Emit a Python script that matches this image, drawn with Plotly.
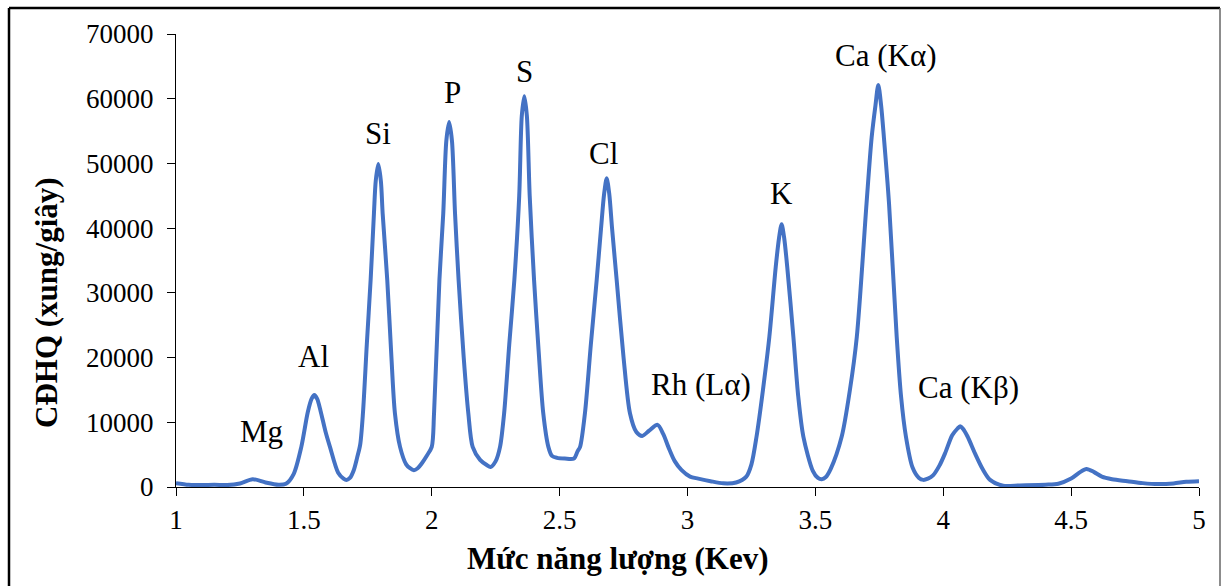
import plotly.graph_objects as go

# Spectrum
energy = [1.00, 1.05, 1.10, 1.15, 1.20, 1.25, 1.30, 1.35, 1.40, 1.43, 1.46, 1.49, 1.515, 1.530,
          1.541, 1.552, 1.565, 1.585, 1.602, 1.634, 1.655, 1.667, 1.68, 1.695, 1.708, 1.72, 1.731,
          1.746, 1.761, 1.774, 1.781, 1.791, 1.801, 1.808, 1.826, 1.841, 1.856, 1.876, 1.90, 1.915,
          1.93, 1.945, 1.96, 1.98, 2.00, 2.009, 2.03, 2.045, 2.057, 2.068, 2.079, 2.091, 2.105,
          2.125, 2.143, 2.16, 2.189, 2.215, 2.23, 2.25, 2.267, 2.283, 2.303, 2.323, 2.342, 2.352,
          2.362, 2.372, 2.383, 2.40, 2.418, 2.436, 2.456, 2.47, 2.49, 2.52, 2.556, 2.57, 2.58,
          2.599, 2.622, 2.645, 2.662, 2.674, 2.684, 2.694, 2.705, 2.723, 2.75, 2.775, 2.80, 2.823,
          2.85, 2.883, 2.905, 2.925, 2.95, 2.977, 3.01, 3.042, 3.09, 3.14, 3.19, 3.23, 3.25, 3.27,
          3.295, 3.32, 3.345, 3.358, 3.368, 3.378, 3.39, 3.414, 3.433, 3.453, 3.49, 3.51, 3.525,
          3.54, 3.56, 3.603, 3.635, 3.662, 3.70, 3.72, 3.735, 3.746, 3.757, 3.768, 3.788, 3.818,
          3.835, 3.854, 3.88, 3.905, 3.922, 3.94, 3.96, 3.985, 4.007, 4.035, 4.055, 4.066, 4.077,
          4.095, 4.124, 4.155, 4.183, 4.234, 4.30, 4.40, 4.45, 4.50, 4.535, 4.56, 4.59, 4.62,
          4.66, 4.72, 4.78, 4.84, 4.90, 4.95, 5.00]
counts = [600, 350, 300, 350, 300, 550, 1200, 700, 350, 500, 2000, 6200, 11500, 13600,
          14200, 13600, 11800, 8500, 6200, 2200, 1300, 1100, 1400, 2600, 4500, 6500, 11400,
          22000, 32000, 42300, 47300, 49900, 47300, 42300, 32000, 21000, 11400, 6200, 3500, 2900,
          2600, 2900, 3600, 4800, 6200, 11400, 32000, 42300, 53500, 56400, 53500, 42300, 32000,
          20000, 11400, 6200, 4200, 3400, 3100, 4000, 6200, 11400, 22000, 32000, 45000, 57300,
          60400, 57300, 45000, 32000, 21000, 11400, 6200, 4800, 4500, 4400, 4400, 5500, 6200,
          11400, 22000, 32000, 40000, 45300, 47700, 45300, 40000, 32000, 20000, 11400, 8500, 7900,
          8700, 9600, 8200, 6200, 4000, 2600, 1600, 1300, 900, 570, 700, 1600, 3500, 7800,
          15000, 23200, 34000, 38500, 40600, 38500, 34000, 23200, 14000, 7800, 2500, 1400, 1200,
          1500, 2800, 7800, 15000, 23200, 43800, 54000, 59000, 62100, 59000, 54000, 43800, 23200,
          14000, 7800, 3000, 1400, 1100, 1300, 1800, 3300, 5200, 8000, 9000, 9400, 9000,
          7800, 5200, 2700, 1100, 200, 250, 350, 500, 1300, 2300, 2800, 2300, 1600,
          1200, 900, 600, 450, 550, 800, 900]

peak_labels = ["Mg", "Al", "Si", "P", "S", "Cl", "Rh (Lα)", "K", "Ca (Kα)", "Ca (Kβ)"]
label_x = [1.336, 1.536, 1.79, 2.08, 2.361, 2.67, 3.053, 3.366, 3.776, 4.097]
label_y = [8500, 20100, 54700, 60900, 64200, 51600, 15900, 45400, 66700, 15300]

x_ticks = [1, 1.5, 2, 2.5, 3, 3.5, 4, 4.5, 5]
x_tick_text = ["1", "1.5", "2", "2.5", "3", "3.5", "4", "4.5", "5"]
y_ticks = [0, 10000, 20000, 30000, 40000, 50000, 60000, 70000]

x_title = "Mức năng lượng (Kev)"
y_title = "CĐHQ (xung/giây)"

FONT = "Liberation Serif"

fig = go.Figure()
fig.add_trace(go.Scatter(
    x=energy, y=counts, mode="lines",
    line=dict(color="#4472C4", width=4, shape="spline", smoothing=0.8),
    hoverinfo="x+y", showlegend=False,
))

for t, lx, ly in zip(peak_labels, label_x, label_y):
    fig.add_annotation(x=lx, y=ly, text=t, showarrow=False, xref="x", yref="y",
                       xanchor="center", yanchor="middle",
                       font=dict(family=FONT, size=31, color="black"))

# axis titles
fig.add_annotation(x=(618 - 176) / 1023, y=(487 - 558) / 453, xref="paper", yref="paper",
                   text="<b>" + x_title + "</b>", showarrow=False,
                   xanchor="center", yanchor="middle",
                   font=dict(family=FONT, size=31, color="black"))
fig.add_annotation(x=(47 - 176) / 1023, y=(487 - 303) / 453, xref="paper", yref="paper",
                   text="<b>" + y_title + "</b>", showarrow=False, textangle=-90,
                   xanchor="center", yanchor="middle",
                   font=dict(family=FONT, size=31, color="black"))

# outer frame of the chart
L = (9 - 176) / 1023
R = (1220 - 176) / 1023
T = (487 - 8) / 453
B = (487 - 620) / 453
fig.add_shape(type="line", xref="paper", yref="paper", x0=L, x1=R, y0=T, y1=T,
              line=dict(color="black", width=2.5))
fig.add_shape(type="line", xref="paper", yref="paper", x0=L, x1=L, y0=B, y1=T,
              line=dict(color="black", width=2.5))
fig.add_shape(type="line", xref="paper", yref="paper", x0=R, x1=R, y0=B, y1=T,
              line=dict(color="#666666", width=1.5))

fig.update_layout(
    width=1222, height=586,
    margin=dict(l=176, r=23, t=34, b=99),
    paper_bgcolor="white", plot_bgcolor="white",
    font=dict(family=FONT, color="black"),
    xaxis=dict(range=[1, 5], tickvals=x_ticks, ticktext=x_tick_text,
               showgrid=False, zeroline=False, showline=True, linecolor="black", linewidth=1.3,
               ticks="outside", ticklen=8, tickwidth=1.3, tickcolor="black",
               tickfont=dict(family=FONT, size=27, color="black")),
    yaxis=dict(range=[0, 70000], tickvals=y_ticks, tickformat="d",
               showgrid=False, zeroline=False, showline=True, linecolor="black", linewidth=1.3,
               ticks="outside", ticklen=8, tickwidth=1.3, tickcolor="black",
               ticklabelstandoff=8,
               tickfont=dict(family=FONT, size=27, color="black")),
)

fig.write_html("out.html")
